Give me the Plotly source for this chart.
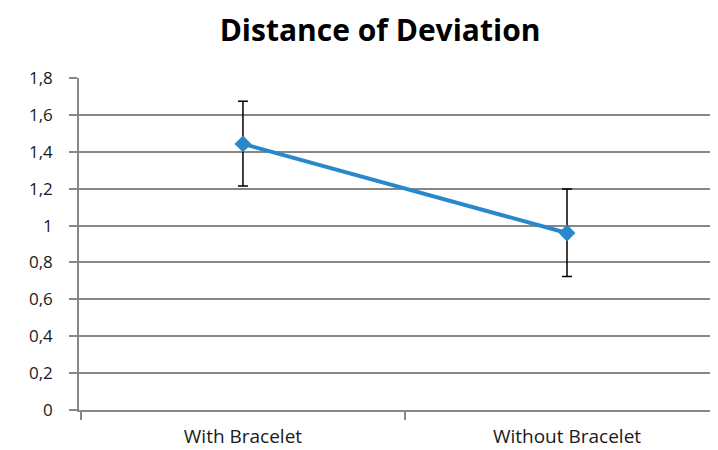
import plotly.graph_objects as go

categories = ["With Bracelet", "Without Bracelet"]
means = [1.443, 0.960]
err_plus = [0.232, 0.238]
err_minus = [0.228, 0.236]
y_ticks = [0, 0.2, 0.4, 0.6, 0.8, 1.0, 1.2, 1.4, 1.6, 1.8]

fig = go.Figure()
fig.add_trace(go.Scatter(
    x=categories, y=means, mode="lines+markers",
    line=dict(color="#2B87CB", width=4),
    marker=dict(symbol="diamond", size=13, color="#2B87CB"),
    error_y=dict(type="data", symmetric=False, array=err_plus, arrayminus=err_minus,
                 color="black", thickness=1.5, width=5),
    showlegend=False,
))

font_fam = "Open Sans, Lato, sans-serif"
# page has an 8px body margin, so the figure is sized to 710x442
fig.update_layout(
    width=710, height=442,
    margin=dict(l=71, r=0, t=70, b=40, autoexpand=False),
    paper_bgcolor="white", plot_bgcolor="white",
    separators=",.",
    title=dict(text="<b>Distance of Deviation</b>", x=0.524, xanchor="center",
               y=0.948, yanchor="middle",
               font=dict(family=font_fam, size=30, color="black")),
    font=dict(family=font_fam, size=16, color="#1a1a1a"),
    xaxis=dict(type="category", range=[-0.506, 1.466], tickson="boundaries",
               ticks="outside", ticklen=8, tickcolor="#878787", tickwidth=1.5,
               showline=True, linecolor="#878787", linewidth=1.5,
               showgrid=False, zeroline=False, ticklabelstandoff=8,
               tickfont=dict(size=19, color="#1a1a1a")),
    yaxis=dict(range=[0, 1.8005], tickvals=y_ticks, ticks="outside", ticklen=8,
               tickcolor="#878787", tickwidth=1.5, showline=True, linecolor="#878787",
               linewidth=1.5, ticklabelstandoff=13,
               showgrid=True, gridcolor="#878787", gridwidth=1.5, zeroline=False,
               tickfont=dict(size=17, color="#1a1a1a")),
)
fig.write_html("out.html")
